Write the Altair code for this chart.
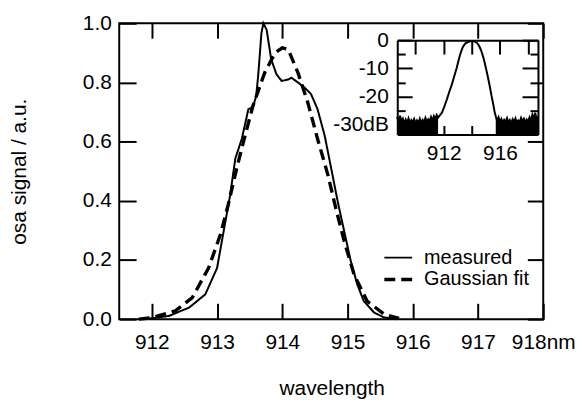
import altair as alt
import pandas as pd

FONT = "Liberation Sans"

# ---------------- main spectrum (linear) ----------------
measured_wl = [911.8, 912.0, 912.26, 912.57, 912.82, 913.0, 913.1, 913.2, 913.28, 913.38,
               913.48, 913.55, 913.6, 913.63, 913.68, 913.71, 913.76, 913.83, 913.91, 913.99,
               914.09, 914.14, 914.24, 914.34, 914.44, 914.54, 914.65, 914.75, 914.85, 914.95,
               915.05, 915.15, 915.25, 915.41, 915.56, 915.76]
measured_val = [0.0, 0.003, 0.011, 0.039, 0.084, 0.173, 0.296, 0.419, 0.543, 0.61,
                0.71, 0.716, 0.755, 0.822, 0.967, 1.0, 0.978, 0.878, 0.828, 0.805,
                0.81, 0.816, 0.8, 0.783, 0.761, 0.71, 0.62, 0.509, 0.397, 0.296,
                0.196, 0.117, 0.061, 0.022, 0.006, 0.0]

gauss_wl = [911.8, 912.0, 912.36, 912.62, 912.87, 913.05, 913.17, 913.3, 913.43, 913.55,
            913.73, 913.89, 914.0, 914.09, 914.24, 914.39, 914.54, 914.7, 914.82, 914.95,
            915.1, 915.3, 915.56, 915.79]
gauss_val = [0.0, 0.005, 0.028, 0.073, 0.173, 0.285, 0.386, 0.509, 0.621, 0.721,
             0.833, 0.9, 0.917, 0.912, 0.833, 0.733, 0.61, 0.487, 0.375, 0.263,
             0.151, 0.061, 0.017, 0.003]

series_names = ["measured", "Gaussian fit"]

x_domain = [911.5, 918.0]
y_domain = [0.0, 1.0]
x_ticks = [912, 913, 914, 915, 916, 917, 918]
y_ticks = [0.0, 0.2, 0.4, 0.6, 0.8, 1.0]

# ---------------- inset spectrum (dB) ----------------
inset_wl = [908.7, 908.8, 908.9, 909.0, 909.1, 909.2, 909.3, 909.4, 909.5, 909.6,
            909.7, 909.8, 909.9, 910.0, 910.1, 910.2, 910.3, 910.4, 910.5, 910.6,
            910.7, 910.8, 910.9, 911.0, 911.1, 911.2, 911.3, 911.4, 911.5, 911.6,
            911.88, 912.05, 912.23, 912.4, 912.58, 912.75, 912.93, 913.05, 913.17, 913.3,
            913.4, 913.55, 913.76, 913.95, 914.11, 914.25, 914.35, 914.48, 914.58, 914.7,
            914.82, 914.93, 915.05, 915.17, 915.29, 915.4, 915.52, 915.62,
            915.7, 915.8, 915.9, 916.0, 916.1, 916.2, 916.3, 916.4, 916.5, 916.6,
            916.7, 916.8, 916.9, 917.0, 917.1, 917.2, 917.3, 917.4, 917.5, 917.6,
            917.7, 917.8, 917.9, 918.0, 918.1, 918.2, 918.3, 918.4, 918.5, 918.6, 918.7]
inset_db = [-27.2, -29.4, -26.8, -28.9, -27.9, -29.6, -28.2, -29.3, -27.8, -29.7,
            -28.4, -29.1, -28.0, -29.5, -28.5, -29.4, -27.9, -29.6, -28.3, -29.0,
            -27.6, -29.2, -28.1, -28.9, -27.3, -28.6, -27.0, -28.2, -26.6, -27.5,
            -25.7, -23.5, -21.0, -18.3, -15.7, -12.8, -9.8, -7.3, -5.1, -3.2,
            -2.1, -1.1, -0.6, -0.3, -0.35, -0.6, -0.9, -1.7, -2.7, -4.2,
            -6.2, -8.4, -11.0, -13.8, -16.8, -19.8, -22.7, -25.5,
            -27.0, -28.6, -27.4, -29.1, -28.0, -29.5, -28.3, -29.0, -27.7, -29.3,
            -28.4, -29.6, -28.1, -29.0, -27.8, -29.4, -28.5, -29.1, -27.6, -28.8,
            -27.9, -29.3, -28.2, -28.9, -27.4, -28.7, -26.5, -28.1, -25.8, -27.9, -27.0]

inset_x_domain = [908.7, 918.7]
inset_y_domain = [-33.5, 0.0]
inset_x_ticks = [910, 912, 914, 916, 918]
inset_y_major = [0, -10, -20, -30]
inset_y_minor = [-5, -15, -25]
noise_left_end = 911.65
noise_right_start = 915.65

# ---------------- layout (pixels) ----------------
W, H = 427, 298
INSET_LEFT, INSET_RIGHT = 280, 421.7
INSET_TOP, INSET_BOTTOM = 17, 112

# ---------------- tables ----------------
main_df = pd.concat([
    pd.DataFrame({"wl": measured_wl, "val": measured_val, "series": series_names[0]}),
    pd.DataFrame({"wl": gauss_wl, "val": gauss_val, "series": series_names[1]}),
], ignore_index=True)

inset_df = pd.DataFrame({"wl": inset_wl, "db": inset_db})
inset_df["part"] = ["left" if w <= noise_left_end else ("right" if w >= noise_right_start else "peak")
                    for w in inset_df["wl"]]
noise_df = inset_df[inset_df["part"] != "peak"]
box_df = pd.DataFrame({"x0": [inset_x_domain[0]], "x1": [inset_x_domain[1]],
                       "y0": [inset_y_domain[1]], "y1": [inset_y_domain[0]]})

xs_main = alt.Scale(domain=x_domain, nice=False, zero=False)
ys_main = alt.Scale(domain=y_domain, nice=False, zero=False)
xs_in = alt.Scale(domain=inset_x_domain, range=[INSET_LEFT, INSET_RIGHT], nice=False, zero=False)
ys_in = alt.Scale(domain=inset_y_domain, range=[INSET_BOTTOM, INSET_TOP], nice=False, zero=False)

legend_kw = dict(orient="none", legendX=269, legendY=225, title=None,
                 symbolType="M-1.4,0H1.4", symbolSize=400,
                 symbolStrokeColor="black", symbolFillColor="transparent",
                 labelFont=FONT, labelFontSize=20, labelColor="black", labelOffset=14,
                 padding=0, rowPadding=0, labelLimit=400)

# main lines with bottom / left axes
main = alt.Chart(main_df).mark_line(color="black").encode(
    x=alt.X("wl:Q", scale=xs_main, axis=alt.Axis(
        orient="bottom", values=x_ticks, domain=False, tickSize={"expr": "-16"}, labelPadding=29,
        labelFlush=False,
        labelExpr="datum.value == 918 ? '918nm' : '' + datum.value",
        title="wavelength", titleX=214, titleY=76, titleBaseline="alphabetic")),
    y=alt.Y("val:Q", scale=ys_main, axis=alt.Axis(
        orient="left", values=y_ticks, domain=False, tickSize={"expr": "-17"}, labelPadding=25,
        format=".1f", title="osa signal / a.u.", titleX=-94, titleY=H / 2,
        titleBaseline="alphabetic", titleFontSize=21)),
    strokeDash=alt.StrokeDash("series:N", scale=alt.Scale(domain=series_names, range=[[1, 0], [11, 6]]),
                              legend=alt.Legend(**legend_kw)),
    strokeWidth=alt.StrokeWidth("series:N", scale=alt.Scale(domain=series_names, range=[2.0, 3.4]),
                                legend=alt.Legend(**legend_kw)),
)

# top / right mirror ticks
mirror = alt.Chart(main_df).mark_line(strokeOpacity=0).encode(
    x=alt.X("wl:Q", scale=xs_main, axis=alt.Axis(
        orient="top", values=x_ticks, domain=False, labels=False, tickSize={"expr": "-15"}, title=None)),
    y=alt.Y("val:Q", scale=ys_main, axis=alt.Axis(
        orient="right", values=y_ticks, domain=False, labels=False, tickSize={"expr": "-16"}, title=None)),
    detail="series:N",
)

# inset white box
box = alt.Chart(box_df).mark_rect(fill="white").encode(
    x=alt.X("x0:Q", scale=xs_in, axis=None), x2="x1",
    y=alt.Y("y0:Q", scale=ys_in, axis=None), y2="y1",
)

# inset noise floor (filled) with bottom / left axes
noise = alt.Chart(noise_df).mark_area(color="black").encode(
    x=alt.X("wl:Q", scale=xs_in, axis=alt.Axis(
        orient="bottom", offset=-(H - INSET_BOTTOM), values=inset_x_ticks, tickSize={"expr": "-9"},
        labelPadding=17, labelFlush=False, zindex=1, title=None,
        labelExpr="datum.value == 912 || datum.value == 916 ? '' + datum.value : ''")),
    y=alt.Y("db:Q", scale=ys_in, axis=alt.Axis(
        orient="left", offset=-INSET_LEFT, values=inset_y_major, tickSize={"expr": "-15"},
        labelPadding=24, zindex=1, title=None,
        labelExpr="datum.value == -30 ? '-30dB' : '' + datum.value")),
    y2=alt.Y2Datum(inset_y_domain[0]),
    detail="part:N",
)

# inset curve with top / right axes
inset_line = alt.Chart(inset_df).mark_line(color="black", strokeWidth=2).encode(
    x=alt.X("wl:Q", scale=xs_in, axis=alt.Axis(
        orient="top", offset=-INSET_TOP, values=inset_x_ticks, labels=False,
        tickSize={"expr": "-14"}, zindex=1, title=None)),
    y=alt.Y("db:Q", scale=ys_in, axis=alt.Axis(
        orient="right", offset=-(W - INSET_RIGHT), values=inset_y_major, labels=False,
        tickSize={"expr": "-16"}, zindex=1, title=None)),
)

# inset minor ticks
minor_left = alt.Chart(inset_df).mark_line(strokeOpacity=0).encode(
    x=alt.X("wl:Q", scale=xs_in, axis=None),
    y=alt.Y("db:Q", scale=ys_in, axis=alt.Axis(
        orient="left", offset=-INSET_LEFT, values=inset_y_minor, labels=False, domain=False,
        tickSize={"expr": "-8"}, zindex=1, title=None)),
)
minor_right = alt.Chart(inset_df).mark_line(strokeOpacity=0).encode(
    x=alt.X("wl:Q", scale=xs_in, axis=None),
    y=alt.Y("db:Q", scale=ys_in, axis=alt.Axis(
        orient="right", offset=-(W - INSET_RIGHT), values=inset_y_minor, labels=False, domain=False,
        tickSize={"expr": "-8"}, zindex=1, title=None)),
)

chart = alt.layer(main, mirror, box, noise, inset_line, minor_left, minor_right).resolve_scale(
    x="independent", y="independent"
).properties(
    width=W, height=H,
    padding={"left": 112, "top": 14, "right": 33, "bottom": 82},
    autosize=alt.AutoSizeParams(type="none"),
).configure_view(
    stroke="black", strokeWidth=2
).configure_axis(
    grid=False, labelFont=FONT, labelFontSize=21, labelColor="black",
    tickColor="black", tickWidth=2, domainColor="black", domainWidth=2,
    titleFont=FONT, titleFontSize=21, titleColor="black", titleFontWeight="normal",
    labelOverlap=False,
)

chart.save("out.html", embed_options={"renderer": "svg", "actions": False})
